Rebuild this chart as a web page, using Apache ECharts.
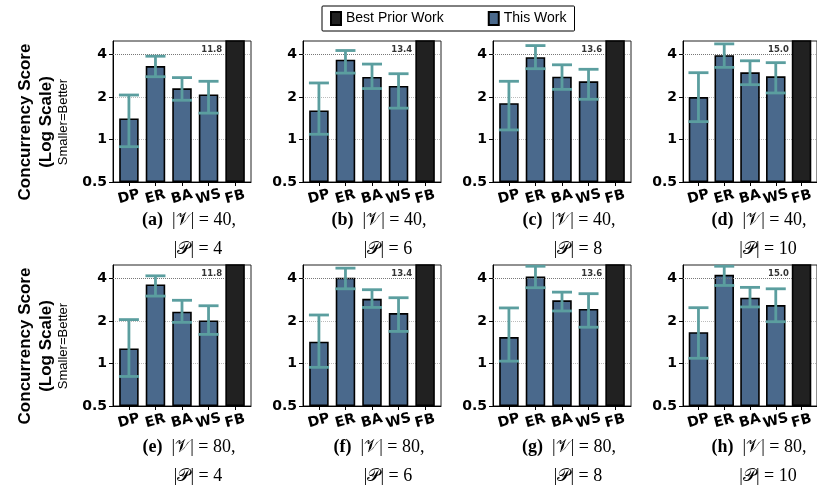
<!DOCTYPE html>
<html>
<head>
<meta charset="utf-8">
<script src="https://cdn.jsdelivr.net/npm/echarts@6/dist/echarts.min.js"></script>
<style>html,body{margin:0;padding:0;background:#fff;}#c{width:817px;height:487px;}</style>
</head>
<body>
<div id="c"></div>
<script>
// ---- data ----
const categories = ['DP', 'ER', 'BA', 'WS', 'FB'];
const panelLetters = ['a', 'b', 'c', 'd', 'e', 'f', 'g', 'h'];
const nodeCounts = [40, 40, 40, 40, 80, 80, 80, 80];
const procCounts = [4, 6, 8, 10, 4, 6, 8, 10];
const bestPrior = [11.8, 13.4, 13.6, 15.0, 11.8, 13.4, 13.6, 15.0];
// This Work means for DP, ER, BA, WS
const thisWork = [
  [1.41, 3.32, 2.31, 2.09],
  [1.61, 3.68, 2.78, 2.40],
  [1.81, 3.84, 2.79, 2.59],
  [2.00, 3.97, 3.00, 2.81],
  [1.28, 3.64, 2.33, 2.02],
  [1.43, 4.06, 2.88, 2.28],
  [1.54, 4.15, 2.81, 2.44],
  [1.67, 4.26, 2.93, 2.60]
];
const errLow = [
  [0.89, 2.79, 1.90, 1.54],
  [1.09, 2.96, 2.30, 1.67],
  [1.17, 3.18, 2.27, 1.93],
  [1.34, 3.25, 2.45, 2.14],
  [0.81, 3.01, 1.96, 1.61],
  [0.94, 3.39, 2.50, 1.69],
  [1.04, 3.45, 2.36, 1.81],
  [1.09, 3.58, 2.52, 1.98]
];
const errHigh = [
  [2.07, 3.90, 2.75, 2.59],
  [2.52, 4.28, 3.43, 2.93],
  [2.59, 4.64, 3.39, 3.15],
  [2.98, 4.77, 3.62, 3.51],
  [2.05, 4.19, 2.81, 2.57],
  [2.21, 4.75, 3.34, 2.93],
  [2.48, 4.90, 3.21, 3.13],
  [2.49, 4.90, 3.47, 3.39]
];
const yTicks = [0.5, 1, 2, 4];
const refLine = 4;

// ---- layout / style ----
const gridLefts = [113, 303, 493, 683];
const gridTops = [41, 265];
const GW = 138, GH = 141;
const blue = '#4a698c', black = '#212121', errColor = '#5b9e9f';

const chart = echarts.init(document.getElementById('c'), null, {renderer: 'canvas'});
const grids = [], xAxes = [], yAxes = [], series = [], graphics = [];

for (let i = 0; i < 8; i++) {
  const row = Math.floor(i / 4), col = i % 4;
  grids.push({left: gridLefts[col], top: gridTops[row], width: GW, height: GH,
    show: true, borderColor: '#222', borderWidth: 1, backgroundColor: '#fff'});
  xAxes.push({type: 'value', gridIndex: i, min: -0.6, max: 4.6,
    axisLine: {show: true, onZero: false, lineStyle: {color: '#000', width: 1}},
    axisTick: {show: true, customValues: [0, 1, 2, 3, 4], length: 4, lineStyle: {color: '#000'}},
    axisLabel: {customValues: [0, 1, 2, 3, 4], formatter: v => categories[Math.round(v)],
      rotate: 15, align: 'center', margin: 15, fontFamily: 'DejaVu Sans', fontWeight: 'bold', fontSize: 14, color: '#000'},
    splitLine: {show: false}});
  yAxes.push({type: 'log', logBase: 2, gridIndex: i, min: 0.5, max: 5, startValue: 0.5,
    axisLine: {show: true, onZero: false, lineStyle: {color: '#000', width: 1}},
    axisTick: {show: true, customValues: yTicks, length: 4, lineStyle: {color: '#000'}},
    axisLabel: {customValues: yTicks, margin: 6, fontFamily: 'DejaVu Sans', fontWeight: 'bold', fontSize: 14, color: '#000'},
    splitLine: {show: true, lineStyle: {type: 'dotted', color: '#bbb', width: 1}},
    minorTick: {show: false}, minorSplitLine: {show: false}});

  series.push({type: 'bar', name: 'This Work', xAxisIndex: i, yAxisIndex: i, barWidth: 19.5, barGap: '-100%',
    itemStyle: {color: blue, borderColor: '#000', borderWidth: 1.6},
    data: thisWork[i].map((v, k) => [k, v]), z: 2,
    markLine: {silent: true, symbol: 'none', lineStyle: {type: 'dotted', color: '#777', width: 1},
      label: {show: true, position: 'insideEndTop', distance: [3, 0], formatter: bestPrior[i].toFixed(1),
        fontFamily: 'DejaVu Sans', fontWeight: 'bold', fontSize: 8.5, color: '#333'},
      data: [[{coord: [-0.6, refLine]}, {coord: [3.63, refLine]}]]}
  });
  series.push({type: 'bar', name: 'Best Prior Work', xAxisIndex: i, yAxisIndex: i, barWidth: 19.5, barGap: '-100%',
    itemStyle: {color: black, borderColor: '#000', borderWidth: 1.6}, clip: true,
    data: [[4, bestPrior[i]]], z: 2});
  series.push({type: 'custom', name: 'err', xAxisIndex: i, yAxisIndex: i, z: 5,
    data: thisWork[i].map((v, k) => [k, errLow[i][k], errHigh[i][k]]),
    renderItem: (params, api) => {
      const x = api.value(0);
      const pLo = api.coord([x, api.value(1)]);
      const pHi = api.coord([x, api.value(2)]);
      const hw = 10;
      const st = {stroke: errColor, lineWidth: 2.8};
      return {type: 'group', children: [
        {type: 'line', shape: {x1: pLo[0], y1: pLo[1], x2: pHi[0], y2: pHi[1]}, style: st},
        {type: 'line', shape: {x1: pLo[0] - hw, y1: pLo[1], x2: pLo[0] + hw, y2: pLo[1]}, style: st},
        {type: 'line', shape: {x1: pHi[0] - hw, y1: pHi[1], x2: pHi[0] + hw, y2: pHi[1]}, style: st}
      ]};
    }});

  const cx = gridLefts[col] + GW / 2;
  const capY = row === 0 ? 220 : 447;
  graphics.push({type: 'text', x: cx + 7, y: capY, style: {
    text: '{b|(' + panelLetters[i] + ')}  |𝒱| = ' + nodeCounts[i] + ',',
    rich: {b: {fontWeight: 'bold', fontFamily: 'Liberation Serif', fontSize: 18}},
    fontFamily: 'Liberation Serif', fontSize: 18, fill: '#000', align: 'center', verticalAlign: 'middle'}});
  graphics.push({type: 'text', x: cx + 16, y: capY + 29, style: {
    text: '|𝒫| = ' + procCounts[i],
    fontFamily: 'Liberation Serif', fontSize: 18, fill: '#000', align: 'center', verticalAlign: 'middle'}});
}

[122, 346].forEach(cy => {
  graphics.push({type: 'text', x: 25, y: cy, rotation: Math.PI / 2, style: {text: 'Concurrency Score',
    fontFamily: 'Liberation Sans', fontWeight: 'bold', fontSize: 17, fill: '#000', align: 'center', verticalAlign: 'middle'}});
  graphics.push({type: 'text', x: 46, y: cy, rotation: Math.PI / 2, style: {text: '(Log Scale)',
    fontFamily: 'Liberation Sans', fontWeight: 'bold', fontSize: 17, fill: '#000', align: 'center', verticalAlign: 'middle'}});
  graphics.push({type: 'text', x: 63, y: cy, rotation: Math.PI / 2, style: {text: 'Smaller=Better',
    fontFamily: 'Liberation Sans', fontSize: 13, fill: '#000', align: 'center', verticalAlign: 'middle'}});
});

chart.setOption({
  animation: false,
  backgroundColor: '#fff',
  legend: {data: ['Best Prior Work', 'This Work'], left: 322, top: 6, icon: 'rect', itemWidth: 10, itemHeight: 13, itemGap: 44,
    padding: [5, 8], borderColor: '#000', borderWidth: 1, borderRadius: 1,
    textStyle: {fontFamily: 'Liberation Sans', fontSize: 14, color: '#000'}},
  grid: grids, xAxis: xAxes, yAxis: yAxes, series: series, graphic: graphics
});
</script>
</body>
</html>
